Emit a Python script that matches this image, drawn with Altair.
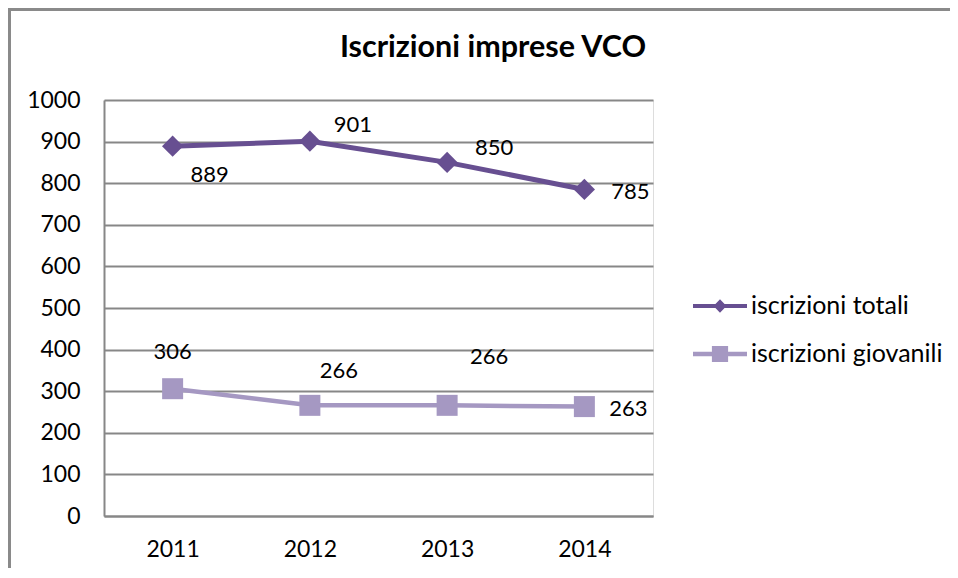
import altair as alt
import pandas as pd

# ---- data ----
years = ["2011", "2012", "2013", "2014"]
totali = [889, 901, 850, 785]
giovanili = [306, 266, 266, 263]
series_names = ["iscrizioni totali", "iscrizioni giovanili"]
y_ticks = [0, 100, 200, 300, 400, 500, 600, 700, 800, 900, 1000]
chart_title = "Iscrizioni imprese VCO"

rows = []
for s, vals in zip(series_names, [totali, giovanili]):
    for yr, v in zip(years, vals):
        rows.append({"year": yr, "value": v, "series": s})
df = pd.DataFrame(rows)

# ---- style ----
DARK = "#674f91"
LIGHT = "#a598c2"
GRID = "#878787"
FRAME = "#8a8a8a"
FONT = "Lato"
colors = {series_names[0]: DARK, series_names[1]: LIGHT}
shapes = {series_names[0]: "diamond", series_names[1]: "square"}
sizes = {series_names[0]: 450, series_names[1]: 441}
widths = {series_names[0]: 5, series_names[1]: 4.5}

DIAMOND_PATH = "M-1,-0.075H1V0.075H-1Z M0,-0.25L0.24,0L0,0.25L-0.24,0Z"
SQUARE_PATH = "M-1,-0.085H1V0.085H-1Z M-0.3,-0.3H0.3V0.3H-0.3Z"

label_offsets = {
    (series_names[0], "2011"): (37, 29),
    (series_names[0], "2012"): (43, -16),
    (series_names[0], "2013"): (47, -14),
    (series_names[0], "2014"): (46, 3),
    (series_names[1], "2011"): (0, -37),
    (series_names[1], "2012"): (29, -34),
    (series_names[1], "2013"): (42, -48),
    (series_names[1], "2014"): (44, 2),
}

x_enc = alt.X(
    "year:N", sort=years,
    scale=alt.Scale(type="point", padding=0.5),
    axis=alt.Axis(title=None, grid=False, ticks=False, tickSize=0, domain=True,
                  domainColor=GRID, domainWidth=2, labelFont=FONT, labelFontSize=23,
                  labelColor="black", labelPadding=22, labelAngle=0),
)
y_enc = alt.Y(
    "value:Q",
    scale=alt.Scale(domain=[0, 1000], nice=False, zero=True),
    axis=alt.Axis(title=None, values=y_ticks, format="d", grid=True, gridColor=GRID,
                  gridWidth=2, ticks=False, tickSize=0, domain=True, domainColor=GRID,
                  domainWidth=2, labelFont=FONT, labelFontSize=23, labelColor="black",
                  labelPadding=24),
)

base = alt.Chart(df)
one = pd.DataFrame({"k": [0]})

# outer frame as two thin filled bars (top and left edges)
frame_top = alt.Chart(one).mark_rect(color=FRAME, strokeWidth=0).encode(
    x=alt.value(-96), x2=alt.value(846), y=alt.value(-92), y2=alt.value(-89))
frame_left = alt.Chart(one).mark_rect(color=FRAME, strokeWidth=0).encode(
    x=alt.value(-96), x2=alt.value(-93), y=alt.value(-92), y2=alt.value(2000))

title_text = alt.Chart(pd.DataFrame({"t": [chart_title]})).mark_text(
    font=FONT, fontSize=30.5, fontWeight="bold", color="black", align="center",
    baseline="middle").encode(x=alt.value(389), y=alt.value(-52), text="t:N")

layers = [frame_top, frame_left, title_text]
for s in series_names:
    sub = base.transform_filter(alt.datum.series == s)
    layers.append(sub.mark_line(color=colors[s], strokeWidth=widths[s]).encode(x=x_enc, y=y_enc))

# legend layer: tiny marks hidden beneath the visible markers
legend_layer = base.mark_point(filled=True, opacity=1).encode(
    x=x_enc, y=y_enc,
    color=alt.Color("series:N", sort=series_names,
                    scale=alt.Scale(domain=series_names, range=[DARK, LIGHT]),
                    legend=alt.Legend(title=None, orient="none", legendX=589, legendY=179,
                                      symbolSize=2916, symbolOpacity=1, symbolStrokeWidth=0,
                                      labelFont=FONT, labelFontSize=25, labelColor="black",
                                      labelOffset=4, labelLimit=400, rowPadding=8, padding=0)),
    shape=alt.Shape("series:N", sort=series_names,
                    scale=alt.Scale(domain=series_names, range=[DIAMOND_PATH, SQUARE_PATH])),
)
layers.append(legend_layer)

for s in series_names:
    sub = base.transform_filter(alt.datum.series == s)
    layers.append(sub.mark_point(filled=True, opacity=1, shape=shapes[s], size=sizes[s],
                                 color=colors[s]).encode(x=x_enc, y=y_enc))

for (s, yr), (ddx, ddy) in label_offsets.items():
    sub = base.transform_filter((alt.datum.series == s) & (alt.datum.year == yr))
    layers.append(sub.mark_text(font=FONT, fontSize=22, color="black", align="center",
                                baseline="middle", dx=ddx, dy=ddy).encode(
        x=x_enc, y=y_enc, text=alt.Text("value:Q")))

chart = alt.layer(*layers).properties(
    width=549, height=416,
    autosize=alt.AutoSizeParams(type="none"),
    padding={"left": 96, "top": 92, "right": 297, "bottom": 52},
).configure_view(stroke=None).configure(background="white")

chart.save("out.html", embed_options={"renderer": "svg", "actions": False})
